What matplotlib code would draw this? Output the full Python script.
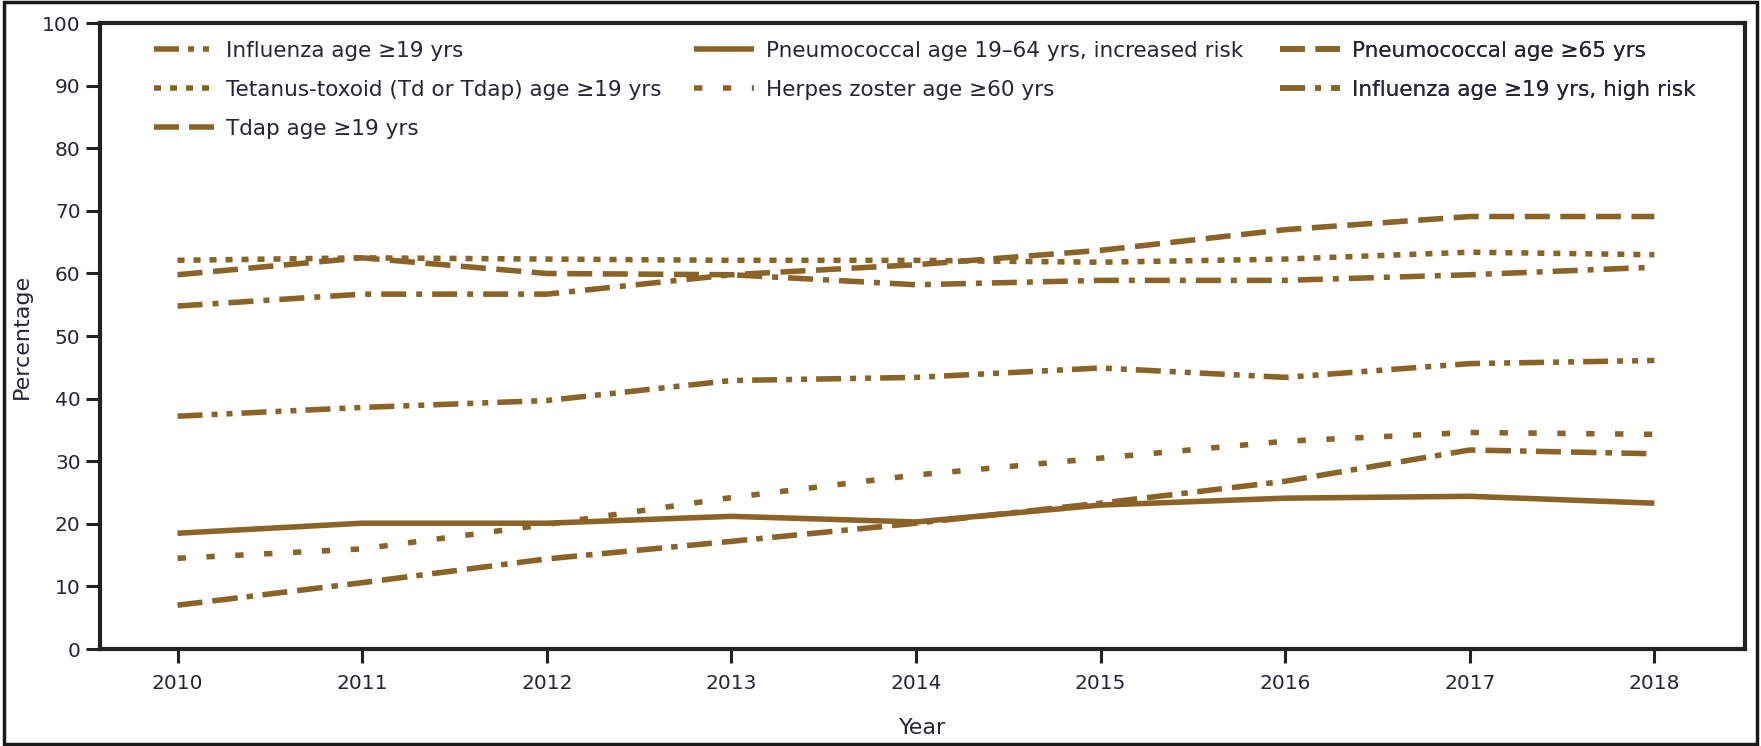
import matplotlib
matplotlib.use('Agg')
import matplotlib.pyplot as plt
from matplotlib.patches import Rectangle

years = [2010, 2011, 2012, 2013, 2014, 2015, 2016, 2017, 2018]

flu_19 = [37.2, 38.6, 39.7, 42.9, 43.4, 44.9, 43.4, 45.6, 46.1]
tetanus_19 = [62.1, 62.5, 62.3, 62.1, 62.1, 61.8, 62.3, 63.4, 63.0]
tdap_19 = [7.0, 10.6, 14.4, 17.2, 20.1, 23.3, 26.8, 31.8, 31.2]
pneumo_19_64 = [18.5, 20.1, 20.1, 21.2, 20.3, 23.0, 24.1, 24.4, 23.3]
herpes_60 = [14.5, 16.0, 19.9, 24.2, 27.8, 30.5, 33.2, 34.6, 34.3]
pneumo_65 = [59.8, 62.5, 60.0, 59.8, 61.4, 63.7, 67.0, 69.1, 69.1]
flu_19_hr = [54.8, 56.7, 56.7, 59.8, 58.2, 58.9, 58.9, 59.8, 61.0]

labels = [
    'Influenza age \u226519 yrs',
    'Tetanus-toxoid (Td or Tdap) age \u226519 yrs',
    'Tdap age \u226519 yrs',
    'Pneumococcal age 19\u201364 yrs, increased risk',
    'Herpes zoster age \u226560 yrs',
    'Pneumococcal age \u226565 yrs',
    'Influenza age \u226519 yrs, high risk',
]

BROWN = '#8B6326'
TEXT = '#24243a'
AXC = '#222222'

plt.rcParams['font.family'] = ['DejaVu Sans']

fig = plt.figure(figsize=(17.61, 7.46), dpi=100)
ax = fig.add_axes([0.0568, 0.130, 0.9340, 0.839])

lw = 4.0
series = [
    (flu_19, (0, (4.5, 1.62, 1.08, 1.62, 1.08, 1.62))),
    (tetanus_19, (0, (1.26, 1.62))),
    (tdap_19, (0, (4.5, 1.8, 4.6, 1.62, 1.17, 1.7))),
    (pneumo_19_64, '-'),
    (herpes_60, (0, (1.5, 3.7))),
    (pneumo_65, (0, (4.5, 1.9))),
    (flu_19_hr, (0, (4.5, 1.8, 1.08, 1.8))),
]

handles = []
for (vals, ls), lab in zip(series, labels):
    h, = ax.plot(years, vals, color=BROWN, lw=lw, linestyle=ls, label=lab,
                 dash_capstyle='butt', solid_capstyle='butt')
    handles.append(h)

ax.set_xlim(2009.58, 2018.49)
ax.set_ylim(0, 100)
ax.set_xticks(years)
ax.set_yticks(range(0, 101, 10))

for s in ax.spines.values():
    s.set_linewidth(3)
    s.set_color(AXC)
ax.tick_params(axis='both', direction='out', length=10, width=2.2,
               color=AXC, labelsize=14.5, labelcolor=TEXT, pad=4)
ax.tick_params(axis='x', pad=8)

ax.set_xlabel('Year', fontsize=16, color=TEXT, labelpad=18)
ax.set_ylabel('Percentage', fontsize=16, color=TEXT, labelpad=7)

# three legend columns placed separately so each column lines up with the reference
col_groups = [(0, 3, 0.0328), (3, 5, 0.3611), (5, 7, 0.7173)]
for i0, i1, xa in col_groups:
    leg = ax.legend(handles=handles[i0:i1], loc='upper left',
                    bbox_to_anchor=(xa, 0.972), frameon=False, fontsize=15.5,
                    handlelength=2.8, handletextpad=0.55,
                    labelspacing=0.89, labelcolor=TEXT, borderpad=0,
                    borderaxespad=0)
    ax.add_artist(leg)

fig.patches.append(Rectangle((0.002, 0.003), 0.996, 0.994,
                             transform=fig.transFigure, fill=False,
                             edgecolor='#1a1a1a', linewidth=2.5))

fig.savefig('out.png', dpi=100)
